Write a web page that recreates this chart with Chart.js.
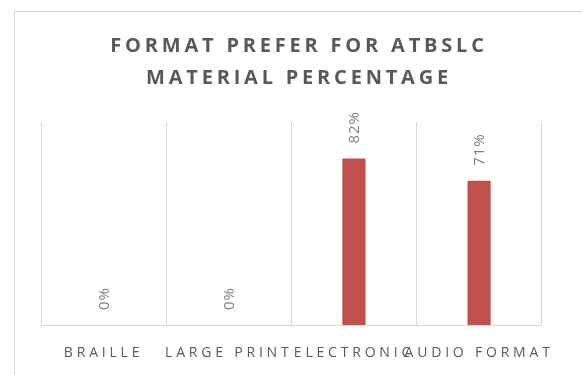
<!DOCTYPE html>
<html>
<head>
<meta charset="utf-8">
<script src="https://cdn.jsdelivr.net/npm/chart.js@4/dist/chart.umd.min.js"></script>
<style>
  html, body { margin:0; padding:0; background:#fff; overflow:hidden; width:582px; height:375px; }
  #frame { position:absolute; left:14px; top:11px; width:580px; height:380px; border-top:1px solid #d9d9d9; border-left:1px solid #d9d9d9; }
  #wrap { position:absolute; left:0; top:0; width:568px; height:360px; }
</style>
</head>
<body>
<div id="frame"><div id="wrap"><canvas id="c"></canvas></div></div>
<script>
const titleLines = ["FORMAT PREFER FOR ATBSLC", "MATERIAL PERCENTAGE"];
const categories = ["BRAILLE", "LARGE PRINT", "ELECTRONIC", "AUDIO FORMAT"];
const percentValues = [0, 0, 82, 71];

const spacingPlugin = {
  id: 'spacing',
  beforeLayout(chart) { chart.ctx.letterSpacing = '4.5px'; },
  beforeDraw(chart) { chart.ctx.letterSpacing = '3.8px'; },
  beforeDatasetsDraw(chart) { chart.ctx.letterSpacing = '4.5px'; }
};

const labelPlugin = {
  id: 'barLabels',
  afterDatasetsDraw(chart) {
    const ctx = chart.ctx;
    const meta = chart.getDatasetMeta(0);
    meta.data.forEach((bar, i) => {
      ctx.save();
      ctx.letterSpacing = '1px';
      ctx.font = '15px "Open Sans"';
      ctx.fillStyle = '#7f7f7f';
      ctx.translate(bar.x, bar.y - 15);
      ctx.rotate(-Math.PI / 2);
      ctx.textAlign = 'left';
      ctx.textBaseline = 'middle';
      ctx.fillText(percentValues[i] + '%', 0, 1);
      ctx.restore();
    });
  }
};

new Chart(document.getElementById('c'), {
  type: 'bar',
  data: {
    labels: categories,
    datasets: [{
      data: percentValues,
      backgroundColor: '#C0504D',
      borderWidth: 0,
      categoryPercentage: 1,
      barPercentage: 0.185
    }]
  },
  options: {
    responsive: true,
    maintainAspectRatio: false,
    animation: false,
    layout: { padding: { left: 0, right: 0, top: 0, bottom: 10 } },
    plugins: {
      legend: { display: false },
      tooltip: { enabled: false },
      title: {
        display: true,
        text: titleLines,
        color: '#595959',
        font: { family: '"Open Sans"', size: 20, weight: 'bold', lineHeight: 1.6 },
        padding: { top: 18, bottom: 28 }
      }
    },
    scales: {
      x: {
        grid: { display: true, color: '#d9d9d9', lineWidth: 1, drawTicks: false, offset: true },
        border: { display: true, color: '#d9d9d9', width: 1 },
        ticks: { color: '#595959', font: { family: '"Open Sans"', size: 14 }, padding: 20, autoSkip: false, maxRotation: 0, minRotation: 0 },
        afterFit(scale) { scale.height = 37; }
      },
      y: {
        position: 'left',
        min: 0,
        max: 100,
        grid: { display: false },
        border: { display: false },
        ticks: { display: false },
        afterFit(scale) { scale.width = 26; }
      },
      yRight: {
        position: 'right',
        min: 0,
        max: 100,
        grid: { display: false },
        border: { display: false },
        ticks: { display: false },
        afterFit(scale) { scale.width = 41; }
      }
    }
  },
  plugins: [spacingPlugin, labelPlugin]
});
</script>
</body>
</html>
